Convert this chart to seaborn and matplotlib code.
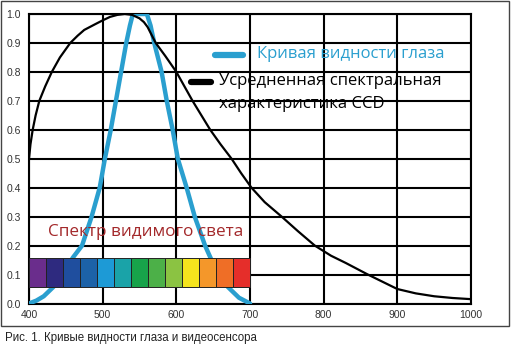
import numpy as np
import pandas as pd
import matplotlib
matplotlib.use("Agg")
import matplotlib.pyplot as plt
from matplotlib.patches import Rectangle
from matplotlib.lines import Line2D
import seaborn as sns

# ---- data ----
ccd_wl = [400, 402, 405, 409, 414, 422, 431, 442, 456, 466, 475, 490, 500, 510, 520, 530, 540,
          550, 556, 561, 566, 572, 585, 600, 611, 622, 634, 646, 660, 675, 688, 702, 720, 743,
          765, 788, 810, 830, 860, 880, 900, 925, 950, 975, 1000]
ccd_val = [0.50, 0.55, 0.60, 0.65, 0.70, 0.75, 0.80, 0.85, 0.90, 0.925, 0.945, 0.965, 0.978,
           0.99, 0.997, 1.00, 0.997, 0.985, 0.972, 0.955, 0.93, 0.90, 0.855, 0.80, 0.75,
           0.70, 0.65, 0.60, 0.55, 0.50, 0.45, 0.40, 0.35, 0.30, 0.25, 0.20, 0.165, 0.14,
           0.10, 0.075, 0.05, 0.035, 0.025, 0.019, 0.015]

eye_wl = [400, 410, 420, 433, 445, 460, 472, 485, 496, 503, 511, 518, 525, 532, 537, 541,
          550, 560, 565, 570, 580, 587, 595, 602, 614, 625, 639, 646, 657, 670, 685, 700]
eye_val = [0.0, 0.01, 0.025, 0.057, 0.10, 0.16, 0.20, 0.30, 0.40, 0.50, 0.60, 0.70, 0.80, 0.90,
           0.96, 1.00, 1.00, 1.00, 0.96, 0.90, 0.80, 0.70, 0.60, 0.50, 0.40, 0.30, 0.20, 0.16,
           0.10, 0.057, 0.02, 0.0]

spectrum_range = [400, 700]
spectrum_band = [0.057, 0.157]
spectrum_colors = ["#6a2d8c", "#2e2a7f", "#1f4e9e", "#1c62a8", "#1d9ad6", "#1aa3a8", "#17a34a",
                   "#4cb048", "#8bc342", "#f5e41d", "#f4972a", "#ef6e26", "#e52e2a"]

x_ticks = [400, 500, 600, 700, 800, 900, 1000]
y_ticks = [0.0, 0.1, 0.2, 0.3, 0.4, 0.5, 0.6, 0.7, 0.8, 0.9, 1.0]

label_eye = "Кривая видности глаза"
label_ccd = ["Усредненная спектральная", "характеристика CCD"]
label_spectrum = "Спектр видимого света"
caption = "Рис. 1. Кривые видности глаза и видеосенсора"

EYE_COLOR = "#2a9fcf"
SPEC_TEXT = "#a3282a"

sns.set_theme(style="white")
plt.rcParams["font.family"] = ["Open Sans", "DejaVu Sans"]

fig = plt.figure(figsize=(5.12, 3.45), dpi=100)
ax = fig.add_axes([29 / 512, 1 - 303.5 / 345, 442 / 512, 289.5 / 345])

# spectrum bar
n = len(spectrum_colors)
width = (spectrum_range[1] - spectrum_range[0]) / n
lefts = spectrum_range[0] + width * np.arange(n)
ax.bar(lefts, spectrum_band[1] - spectrum_band[0], width=width, bottom=spectrum_band[0],
       align="edge", color=spectrum_colors, edgecolor="#222222", linewidth=0.7, zorder=4)

df_eye = pd.DataFrame({"wl": eye_wl, "v": eye_val})
df_ccd = pd.DataFrame({"wl": ccd_wl, "v": ccd_val})
sns.lineplot(data=df_eye, x="wl", y="v", ax=ax, color=EYE_COLOR, linewidth=3.2,
             estimator=None, sort=False, zorder=3)
sns.lineplot(data=df_ccd, x="wl", y="v", ax=ax, color="black", linewidth=1.6,
             estimator=None, sort=False, zorder=5)

ax.set_xlim(400, 1000)
ax.set_ylim(0, 1)
ax.set_xticks(x_ticks)
ax.set_yticks(y_ticks)
ax.set_xticklabels([str(t) for t in x_ticks])
ax.set_yticklabels([f"{t:.1f}" for t in y_ticks])
ax.grid(True, color="black", linewidth=1.5)
ax.set_axisbelow(True)
for s in ax.spines.values():
    s.set_color("black")
    s.set_linewidth(1.5)
ax.tick_params(axis="both", length=0, labelsize=7.5, colors="#333333")
ax.tick_params(axis="x", pad=5)
ax.tick_params(axis="y", pad=6)
for lab in ax.get_xticklabels() + ax.get_yticklabels():
    lab.set_family(["Liberation Sans", "DejaVu Sans"])
ax.set_xlabel("")
ax.set_ylabel("")

# legend (manual)
ax.add_line(Line2D([652, 690], [0.858, 0.858], color=EYE_COLOR, linewidth=4.5,
                   solid_capstyle="round", zorder=6))
ax.text(709, 0.862, label_eye, color=EYE_COLOR, fontsize=12, va="center", ha="left", zorder=6)
ax.add_line(Line2D([620, 647], [0.765, 0.765], color="black", linewidth=4.5,
                   solid_capstyle="round", zorder=6))
ax.text(658, 0.768, label_ccd[0], color="black", fontsize=12, va="center", ha="left", zorder=6)
ax.text(658, 0.688, label_ccd[1], color="black", fontsize=12, va="center", ha="left", zorder=6)

ax.text(426, 0.247, label_spectrum, color=SPEC_TEXT, fontsize=12.3, va="center", ha="left", zorder=6)

# outer frame and caption
fig.patches.append(Rectangle((1 / 512, 1 - 326 / 345), 508 / 512, 325 / 345,
                             transform=fig.transFigure, fill=False, edgecolor="#444444",
                             linewidth=1.0))
fig.text(5 / 512, 1 - 338 / 345, caption, fontsize=8.3, va="center", ha="left", color="#222222",
         family=["Liberation Sans Narrow", "Liberation Sans", "DejaVu Sans"])

fig.savefig("out.png", dpi=100)
